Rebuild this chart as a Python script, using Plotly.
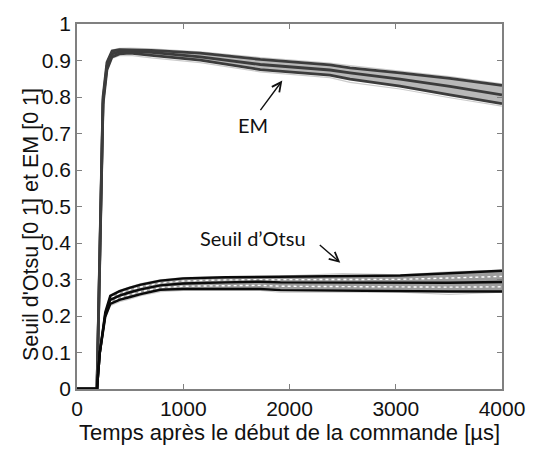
import plotly.graph_objects as go

# Time axis (µs) and EM curves: mean, +/- spread, and outermost trial envelope
t_em = [0, 188, 215, 245, 282, 330, 400, 500, 700, 1160, 1725, 2380, 2570, 3040, 3510, 4000]
em_mean = [0, 0, 0.37, 0.79, 0.885, 0.918, 0.924, 0.925, 0.922, 0.910, 0.889, 0.874, 0.866, 0.849, 0.829, 0.806]
em_high = [0, 0, 0.38, 0.80, 0.895, 0.926, 0.930, 0.930, 0.928, 0.920, 0.903, 0.888, 0.880, 0.866, 0.851, 0.832]
em_low = [0, 0, 0.36, 0.78, 0.875, 0.910, 0.918, 0.920, 0.914, 0.901, 0.875, 0.860, 0.849, 0.830, 0.806, 0.782]
em_env_high = [0, 0, 0.38, 0.80, 0.897, 0.929, 0.933, 0.934, 0.932, 0.924, 0.908, 0.893, 0.886, 0.871, 0.856, 0.836]
em_env_low = [0, 0, 0.36, 0.78, 0.872, 0.906, 0.913, 0.914, 0.907, 0.894, 0.869, 0.853, 0.840, 0.822, 0.798, 0.775]

# Otsu threshold curves
t_ot = [0, 188, 215, 266, 313, 400, 500, 600, 784, 1000, 1400, 1725, 1914, 2500, 3043, 3500, 4000]
ot_mean = [0, 0, 0.10, 0.204, 0.244, 0.256, 0.265, 0.273, 0.284, 0.289, 0.292, 0.294, 0.292, 0.291, 0.290, 0.291, 0.293]
ot_high = [0, 0, 0.10, 0.210, 0.255, 0.268, 0.278, 0.286, 0.297, 0.303, 0.306, 0.307, 0.307, 0.309, 0.311, 0.317, 0.324]
ot_low = [0, 0, 0.10, 0.198, 0.233, 0.244, 0.252, 0.260, 0.272, 0.274, 0.274, 0.274, 0.271, 0.269, 0.268, 0.267, 0.267]
ot_env_high = [0, 0, 0.10, 0.212, 0.258, 0.270, 0.280, 0.289, 0.299, 0.305, 0.308, 0.309, 0.309, 0.316, 0.313, 0.321, 0.326]
ot_env_low = [0, 0, 0.10, 0.195, 0.228, 0.239, 0.247, 0.256, 0.267, 0.270, 0.270, 0.270, 0.265, 0.266, 0.265, 0.259, 0.265]

x_ticks = [0, 1000, 2000, 3000, 4000]
y_ticks = [0, 0.1, 0.2, 0.3, 0.4, 0.5, 0.6, 0.7, 0.8, 0.9, 1]

fig = go.Figure()


def band(t, low, high, mean, env_low, env_high, fill, line_col, width, dotted):
    fig.add_trace(go.Scatter(x=t, y=low, mode="lines", line=dict(width=0), hoverinfo="skip"))
    fig.add_trace(go.Scatter(x=t, y=high, mode="lines", line=dict(width=0), fill="tonexty",
                             fillcolor=fill, hoverinfo="skip"))
    for env in (env_low, env_high):
        fig.add_trace(go.Scatter(x=t, y=env, mode="lines", line=dict(color="#cccccc", width=1.2)))
    if dotted:
        mid_hi = [(a + b) / 2 for a, b in zip(high, mean)]
        mid_lo = [(a + b) / 2 for a, b in zip(low, mean)]
        for m in (mid_hi, mid_lo):
            fig.add_trace(go.Scatter(x=t, y=m, mode="lines",
                                     line=dict(color="#ffffff", width=1.4, dash="3px,3px")))
    for y in (low, mean, high):
        fig.add_trace(go.Scatter(x=t, y=y, mode="lines", line=dict(color=line_col, width=width)))


band(t_em, em_low, em_high, em_mean, em_env_low, em_env_high, "#b8b8b8", "#3c3c3c", 2.8, False)
band(t_ot, ot_low, ot_high, ot_mean, ot_env_low, ot_env_high, "#9c9c9c", "#0a0a0a", 2.4, True)

label_font = dict(family="Lato, Noto Sans, sans-serif", size=20, color="#111111")
# EM label and arrow
fig.add_annotation(x=1659, y=0.7235, xref="x", yref="y", text="EM", showarrow=False, font=label_font)
fig.add_annotation(x=1932, y=0.845, ax=1716, ay=0.760, xref="x", yref="y", axref="x", ayref="y",
                   text="", showarrow=True, arrowhead=5, arrowsize=1.3, arrowwidth=1.4,
                   arrowcolor="#111111")
# Otsu label and arrow
fig.add_annotation(x=1659, y=0.414, xref="x", yref="y", text="Seuil d’Otsu", showarrow=False,
                   font=label_font)
fig.add_annotation(x=2478, y=0.346, ax=2271, ay=0.398, xref="x", yref="y", axref="x", ayref="y",
                   text="", showarrow=True, arrowhead=5, arrowsize=1.3, arrowwidth=1.4,
                   arrowcolor="#111111")

# Y axis title
fig.add_annotation(x=-0.11, y=0.45, xref="paper", yref="paper", xanchor="center", yanchor="middle",
                   text="Seuil d'Otsu [0 1] et EM [0 1]", textangle=-90, showarrow=False,
                   font=dict(family="Liberation Sans, Arial, sans-serif", size=21.5, color="#111111"))

axis_common = dict(showline=True, linecolor="#808080", linewidth=1.5, mirror="ticks",
                   ticks="inside", ticklen=5, tickcolor="#808080", tickwidth=1.2,
                   showgrid=False, zeroline=False,
                   tickfont=dict(family="Liberation Sans, Arial, sans-serif", size=21, color="#111111"))

fig.update_layout(
    width=537, height=452,
    margin=dict(l=77, r=35, t=15, b=50),
    paper_bgcolor="white", plot_bgcolor="white",
    showlegend=False,
    xaxis=dict(range=[0, 4000], tickvals=x_ticks, **axis_common,
               title=dict(text="Temps après le début de la commande [µs]", standoff=5,
                          font=dict(family="Liberation Sans, Arial, sans-serif", size=22,
                                    color="#111111"))),
    yaxis=dict(range=[0, 1], tickvals=y_ticks, **axis_common),
)

fig.write_html("out.html")
